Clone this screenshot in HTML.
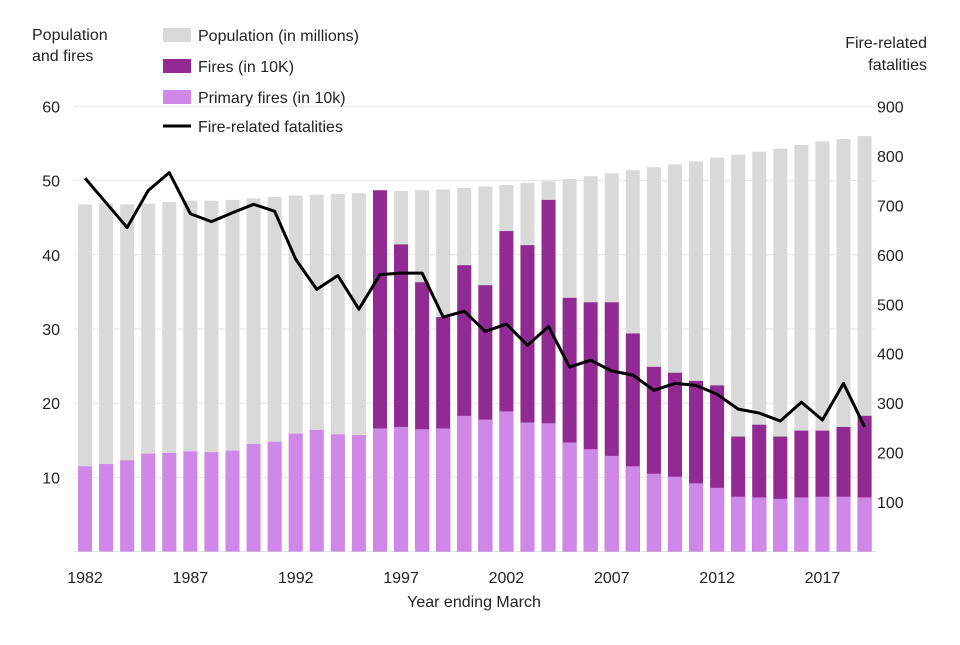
<!DOCTYPE html>
<html><head><meta charset="utf-8"><style>
body{margin:0;background:#fff;font-family:"Liberation Sans",Arial,sans-serif}
svg text{font-family:"Liberation Sans",Arial,sans-serif;fill:#222}
</style></head><body>
<svg id="c" width="960" height="640"></svg>
<script>
const years=[1982,1983,1984,1985,1986,1987,1988,1989,1990,1991,1992,1993,1994,1995,1996,1997,1998,1999,2000,2001,2002,2003,2004,2005,2006,2007,2008,2009,2010,2011,2012,2013,2014,2015,2016,2017,2018,2019];
const population=[46.8,46.9,46.8,46.9,47.1,47.3,47.3,47.4,47.6,47.8,48.0,48.1,48.2,48.3,48.5,48.6,48.7,48.8,49.0,49.2,49.4,49.7,49.9,50.2,50.6,51.0,51.4,51.8,52.2,52.6,53.1,53.5,53.9,54.3,54.8,55.3,55.6,56.0];
const fires=[null,null,null,null,null,null,null,null,null,null,null,null,null,null,48.7,41.4,36.3,31.6,38.6,35.9,43.2,41.3,47.4,34.2,33.6,33.6,29.4,24.9,24.1,23.0,22.4,15.5,17.1,15.5,16.3,16.3,16.8,18.3];
const primaryFires=[11.5,11.8,12.3,13.2,13.3,13.5,13.4,13.6,14.5,14.8,15.9,16.4,15.8,15.7,16.6,16.8,16.5,16.6,18.3,17.8,18.9,17.4,17.3,14.7,13.8,12.9,11.5,10.5,10.1,9.2,8.6,7.4,7.3,7.1,7.3,7.4,7.4,7.3];
const fatalities=[755,705,655,730,766,683,667,685,702,688,591,530,558,490,560,563,563,474,486,445,460,417,455,373,387,365,357,326,340,336,318,288,280,264,302,266,340,252];
const leftTicks=[10,20,30,40,50,60];
const rightTicks=[100,200,300,400,500,600,700,800,900];
const xLabels=[1982,1987,1992,1997,2002,2007,2012,2017];

const svg=document.getElementById('c');const NS='http://www.w3.org/2000/svg';
function mk(t,a,txt){const e=document.createElementNS(NS,t);for(const k in a)e.setAttribute(k,a[k]);if(txt!=null)e.textContent=txt;svg.appendChild(e);return e;}
const y0=551.6, yL=v=>y0-v*7.42, yR=v=>y0-v*0.4947;
const x=i=>85+i*21.07, bw=14;
leftTicks.forEach(t=>{const g=mk('line',{x1:74,x2:876,y1:yL(t),y2:yL(t),stroke:'#e6e6e6','stroke-width':1});
 
 });
let ax=mk('line',{x1:74,x2:876,y1:y0,y2:y0,stroke:'#e0e0e0','stroke-width':1});


years.forEach((yr,i)=>{
 let e=mk('rect',{x:x(i)-bw/2,y:yL(population[i]),width:bw,height:y0-yL(population[i]),fill:'#d9d9d9'});
 
 
 if(fires[i]!=null){e=mk('rect',{x:x(i)-bw/2,y:yL(fires[i]),width:bw,height:y0-yL(fires[i]),fill:'#912a92'});
 
 }
 e=mk('rect',{x:x(i)-bw/2,y:yL(primaryFires[i]),width:bw,height:y0-yL(primaryFires[i]),fill:'#cf88e7'});
 
 
});
let line=mk('polyline',{points:fatalities.map((v,i)=>x(i)+','+yR(v)).join(' '),fill:'none',stroke:'#000','stroke-width':3,'stroke-linejoin':'round'});


leftTicks.forEach(t=>{const e=mk('text',{x:60,y:yL(t)+6,'text-anchor':'end','font-size':16},t);
 
 });
rightTicks.forEach(t=>{const e=mk('text',{x:877,y:yR(t)+6,'font-size':16},t);
 
 });
xLabels.forEach(t=>{const e=mk('text',{x:x(years.indexOf(t)),y:583,'text-anchor':'middle','font-size':16},t);
 
 });
let e=mk('text',{x:474,y:607,'text-anchor':'middle','font-size':16},'Year ending March');

e=mk('text',{x:32,y:40,'font-size':16},'Population');
e=mk('text',{x:32,y:61,'font-size':16},'and fires');
e=mk('text',{x:927,y:48,'text-anchor':'end','font-size':16},'Fire-related');
e=mk('text',{x:927,y:70,'text-anchor':'end','font-size':16},'fatalities');
const leg=[['Population (in millions)','#d9d9d9',35],['Fires (in 10K)','#912a92',66],['Primary fires (in 10k)','#cf88e7',97]];
leg.forEach(l=>{let r=mk('rect',{x:163,y:l[2]-7,width:28,height:14,fill:l[1]});
 
 let t=mk('text',{x:198,y:l[2]+6,'font-size':16},l[0]);
 });
e=mk('line',{x1:163,x2:191,y1:126,y2:126,stroke:'#000','stroke-width':3});
e=mk('text',{x:198,y:132,'font-size':16},'Fire-related fatalities');
</script>
</body></html>
